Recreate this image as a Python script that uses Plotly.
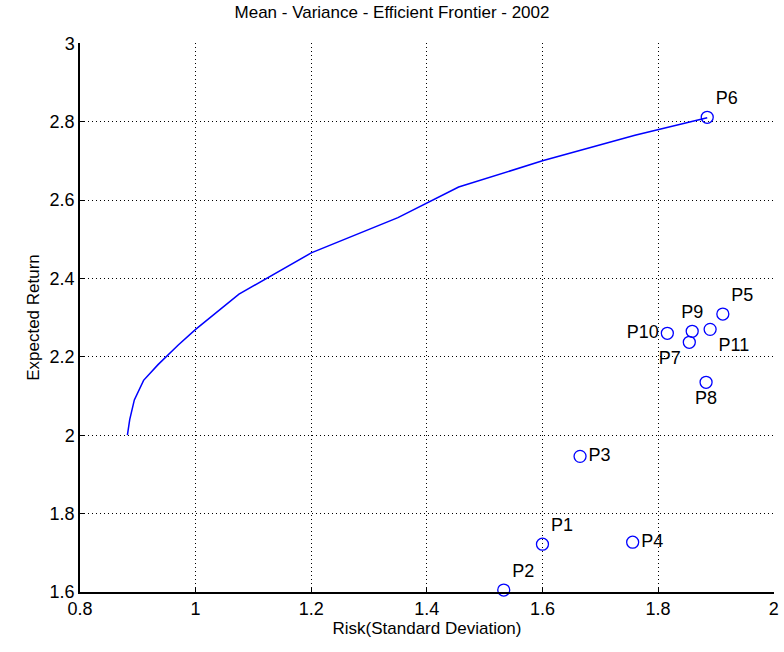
import plotly.graph_objects as go

frontier_risk = [0.882, 0.886, 0.894, 0.91, 0.935, 0.97, 1.0, 1.075, 1.2, 1.35, 1.455, 1.6, 1.76, 1.885]
frontier_ret = [2.0, 2.04, 2.09, 2.14, 2.18, 2.23, 2.27, 2.36, 2.465, 2.555, 2.633, 2.7, 2.765, 2.81]

names = ["P1", "P2", "P3", "P4", "P5", "P6", "P7", "P8", "P9", "P10", "P11"]
risk = [1.600, 1.533, 1.665, 1.756, 1.912, 1.885, 1.854, 1.883, 1.859, 1.816, 1.890]
ret = [1.722, 1.605, 1.946, 1.727, 2.309, 2.811, 2.237, 2.135, 2.265, 2.260, 2.270]
text_pos = ["top right", "top right", "middle right", "middle right", "top right", "top right",
            "bottom left", "bottom center", "top center", "middle left", "bottom right"]

FONT = "Liberation Sans, Arial"

fig = go.Figure()
fig.add_trace(go.Scatter(x=frontier_risk, y=frontier_ret, mode="lines",
                         line=dict(color="#0000ff", width=1.5), showlegend=False))
fig.add_trace(go.Scatter(x=risk, y=ret, mode="markers+text", text=names, textposition=text_pos,
                         textfont=dict(family=FONT, size=18, color="black"),
                         marker=dict(symbol="circle-open", size=12, color="#0000ff", line=dict(width=1.3)),
                         showlegend=False, cliponaxis=False))

axis_common = dict(showgrid=True, gridcolor="black", griddash="1px,3px", gridwidth=1,
                   showline=True, linecolor="black", linewidth=1.5, ticks="inside", ticklen=5,
                   tickcolor="black", zeroline=False, mirror=False,
                   tickfont=dict(family=FONT, size=18, color="black"))

fig.update_layout(
    width=784, height=652,
    margin=dict(l=80, r=5, t=43, b=60),
    paper_bgcolor="white", plot_bgcolor="white",
    title=dict(text="Mean - Variance - Efficient Frontier - 2002", x=0.5, xanchor="center",
               y=0.99, yanchor="top",
               font=dict(family=FONT, size=17, color="black")),
    xaxis=dict(range=[0.8, 2.0005], dtick=0.2, tick0=0.8, tickformat="~g",
               title=dict(text="Risk(Standard Deviation)", standoff=4,
                          font=dict(family=FONT, size=17, color="black")),
               **axis_common),
    yaxis=dict(range=[1.6, 3.0005], dtick=0.2, tick0=1.6, tickformat="~g",
               title=dict(text="Expected Return", standoff=6,
                          font=dict(family=FONT, size=17, color="black")),
               **axis_common),
)

fig.write_html("out.html")
